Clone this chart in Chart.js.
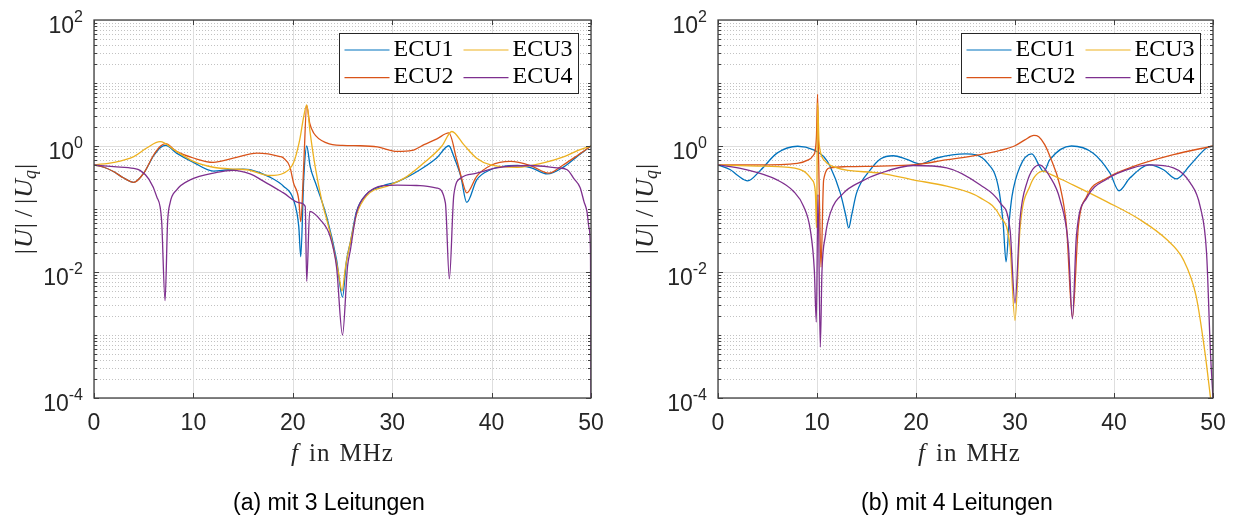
<!DOCTYPE html>
<html>
<head>
<meta charset="utf-8">
<script src="https://cdn.jsdelivr.net/npm/chart.js@4.4.1/dist/chart.umd.min.js"></script>
<style>
  html, body { margin: 0; padding: 0; background: #fff; }
  body { width: 1234px; height: 517px; position: relative; overflow: hidden; }
  canvas { position: absolute; top: 0; }
  #chartA { left: 0; }
  #chartB { left: 617px; }
</style>
</head>
<body>
<canvas id="chartA" width="617" height="517"></canvas>
<canvas id="chartB" width="617" height="517"></canvas>
<script>
// series labels / colours (MATLAB default order)
const labels = ['ECU1', 'ECU2', 'ECU3', 'ECU4'];
const colors = ['#0072BD', '#D95319', '#EDB120', '#7E2F8E'];

// axis ticks
const xTicks = [0, 10, 20, 30, 40, 50];
const yTickExps = [-4, -2, 0, 2];

// (a) mit 3 Leitungen  -- frequency in MHz, |U|/|Uq|
const freqA1 = [0, 1, 2, 3, 4, 5, 6, 6.7, 7.2, 8.3, 10, 12, 13.5, 15, 15.7, 17.7, 19.06, 20.07, 20.6, 20.8, 21.1, 21.4, 21.75, 22.4, 23.4, 24.4, 25.0, 25.4, 25.8, 26.4, 27.4, 29.1, 30.5, 32.8, 34.5, 35.7, 36.2, 36.9, 37.5, 38.5, 39.9, 41, 42.6, 44, 45.6, 47.3, 48.7, 50];
const ecuA1 = [0.5, 0.46, 0.39, 0.31, 0.265, 0.37, 0.7, 0.95, 1.02, 0.77, 0.55, 0.4, 0.42, 0.43, 0.42, 0.32, 0.23, 0.14, 0.053, 0.0175, 0.3, 1.0, 0.47, 0.23, 0.076, 0.0157, 0.004, 0.015, 0.03, 0.09, 0.17, 0.235, 0.27, 0.42, 0.65, 1.01, 0.68, 0.33, 0.127, 0.29, 0.42, 0.47, 0.49, 0.45, 0.36, 0.47, 0.7, 1.0];

const freqA2 = [0, 1, 2, 3, 4, 5, 6, 6.7, 7.2, 8.3, 10, 12, 14, 16.4, 18.7, 19.06, 19.7, 20.07, 20.6, 20.8, 21.1, 21.4, 21.7, 22.1, 23.4, 25, 26.8, 28.5, 30.5, 32, 33.2, 34.5, 35.7, 36.5, 37.0, 37.5, 38.5, 39.9, 41.9, 43.9, 45.75, 47.2, 48.7, 50];
const ecuA2 = [0.5, 0.46, 0.39, 0.31, 0.265, 0.37, 0.72, 1.0, 1.09, 0.82, 0.645, 0.55, 0.64, 0.77, 0.68, 0.645, 0.47, 0.26, 0.14, 0.063, 0.5, 4.4, 2.3, 1.61, 1.12, 1.02, 1.01, 0.97, 0.82, 0.85, 1.05, 1.3, 1.61, 0.6, 0.3, 0.18, 0.33, 0.49, 0.57, 0.49, 0.37, 0.5, 0.72, 1.0];

const freqA3 = [0, 2, 4, 5.3, 6.65, 8.3, 10, 12, 14, 15.4, 17.7, 19.06, 20.07, 20.7, 21.1, 21.4, 21.75, 22.25, 22.9, 23.75, 24.6, 24.95, 25.3, 25.8, 26.4, 27.4, 29.8, 31.5, 33.2, 35, 36.0, 37.2, 38.5, 39.9, 42.6, 45.2, 47.3, 48.7, 50];
const ecuA3 = [0.5, 0.55, 0.68, 0.93, 1.17, 0.82, 0.57, 0.46, 0.43, 0.42, 0.34, 0.37, 0.54, 1.26, 2.95, 4.5, 1.6, 0.47, 0.14, 0.042, 0.0097, 0.005, 0.012, 0.03, 0.08, 0.16, 0.24, 0.33, 0.54, 1.0, 1.7, 1.05, 0.64, 0.5, 0.46, 0.54, 0.68, 0.85, 1.0];

const freqA4 = [0, 2, 4, 4.63, 5.5, 6.3, 6.8, 7.15, 7.4, 7.65, 8.3, 9.67, 12.35, 14, 15.7, 17, 19.06, 20.7, 21.25, 21.4, 21.7, 22.75, 23.75, 24.4, 25.0, 25.5, 25.8, 26.4, 27.4, 29.1, 30.5, 32.8, 34.5, 35.35, 35.75, 36.2, 36.9, 38.5, 40.5, 43.9, 46.6, 47.6, 48.3, 48.9, 49.3, 49.6, 49.8, 49.95, 50];
const ecuA4 = [0.5, 0.47, 0.44, 0.41, 0.3, 0.159, 0.066, 0.0035, 0.06, 0.124, 0.2, 0.29, 0.38, 0.41, 0.36, 0.28, 0.18, 0.125, 0.11, 0.0071, 0.092, 0.068, 0.037, 0.012, 0.001, 0.012, 0.0226, 0.086, 0.17, 0.235, 0.24, 0.235, 0.215, 0.125, 0.0078, 0.168, 0.31, 0.37, 0.45, 0.49, 0.45, 0.42, 0.3, 0.22, 0.13, 0.09, 0.05, 0.02, 0.0001];

// (b) mit 4 Leitungen
const freqB1 = [0, 1.25, 2, 3.0, 4.28, 5.96, 8.05, 9.66, 10.67, 11.34, 12.35, 12.9, 13.2, 13.5, 14.0, 15.4, 16.4, 17.7, 19, 20.4, 22.1, 25.0, 27.2, 28.3, 28.8, 29.1, 29.4, 29.7, 30.5, 31.7, 32.5, 32.9, 33.5, 35.7, 37.9, 39.6, 40.5, 41.6, 43.6, 45.0, 46.3, 47.7, 49.35, 50];
const ecuB1 = [0.5, 0.42, 0.34, 0.28, 0.41, 0.77, 0.99, 0.87, 0.68, 0.47, 0.18, 0.08, 0.05, 0.08, 0.18, 0.42, 0.62, 0.7, 0.62, 0.52, 0.645, 0.75, 0.54, 0.23, 0.06, 0.0145, 0.06, 0.16, 0.47, 0.75, 0.47, 0.39, 0.6, 1.0, 0.77, 0.37, 0.195, 0.31, 0.5, 0.42, 0.3, 0.5, 0.93, 1.0];

const freqB2 = [0, 4, 8, 9.0, 9.6, 9.83, 9.95, 10.06, 10.15, 10.25, 10.4, 10.67, 11.34, 13, 16.4, 19.7, 23, 26.5, 28.5, 30.0, 31.0, 31.9, 32.4, 33.0, 33.5, 34.55, 35.2, 35.8, 36.4, 37.25, 39.3, 41.9, 46.0, 50];
const ecuB2 = [0.5, 0.5, 0.53, 0.59, 0.7, 0.87, 1.5, 6.6, 0.8, 0.12, 0.012, 0.29, 0.45, 0.47, 0.48, 0.5, 0.6, 0.73, 0.85, 1.01, 1.25, 1.47, 1.4, 1.05, 0.7, 0.23, 0.053, 0.0019, 0.053, 0.16, 0.31, 0.47, 0.73, 1.0];

const freqB3 = [0, 4, 6, 8.65, 9.5, 9.83, 9.95, 10.06, 10.2, 10.33, 10.84, 12, 16.4, 19.7, 23.1, 26.5, 28.5, 29.5, 30.0, 30.5, 31.5, 32.9, 33.5, 35.9, 39.3, 42.6, 45.3, 47.0, 48.3, 49.2, 49.75];
const ecuB3 = [0.5, 0.48, 0.47, 0.4, 0.29, 0.19, 0.05, 4.8, 1.2, 0.82, 0.57, 0.45, 0.37, 0.29, 0.23, 0.15, 0.076, 0.025, 0.0017, 0.047, 0.23, 0.4, 0.36, 0.24, 0.13, 0.068, 0.033, 0.0157, 0.0041, 0.00051, 0.0001];

const freqB4 = [0, 2.6, 5.96, 7.64, 8.65, 9.32, 9.73, 9.93, 10.1, 10.33, 10.5, 10.84, 11.34, 12.7, 14.4, 16.4, 19.7, 23.1, 26.5, 28.5, 29.5, 30.0, 30.5, 31.2, 32.5, 33.5, 34.55, 35.4, 35.8, 36.2, 37.25, 39.3, 41.9, 43.6, 46.0, 47.7, 48.7, 49.35, 49.75, 50];
const ecuB4 = [0.5, 0.43, 0.29, 0.19, 0.11, 0.047, 0.0107, 0.0016, 0.17, 0.00064, 0.01, 0.037, 0.086, 0.18, 0.27, 0.37, 0.49, 0.45, 0.24, 0.125, 0.047, 0.0032, 0.068, 0.26, 0.5, 0.33, 0.14, 0.025, 0.0018, 0.037, 0.15, 0.3, 0.45, 0.5, 0.45, 0.26, 0.11, 0.02, 0.0005, 0.0001];

const SANS = '"Liberation Sans", Arial, sans-serif';
const SERIF = '"Liberation Serif", "Times New Roman", serif';

function pairs(fs, vs) {
  return fs.map((f, i) => ({ x: f, y: vs[i] }));
}

function hline(ctx, x0, x1, y) {
  ctx.beginPath(); ctx.moveTo(x0, y); ctx.lineTo(x1, y); ctx.stroke();
}
function vline(ctx, x, y0, y1) {
  ctx.beginPath(); ctx.moveTo(x, y0); ctx.lineTo(x, y1); ctx.stroke();
}

// draws text pieces [text, font, dy, extraGap] one after another, centred on cx
function drawPieces(ctx, pieces, cx, baseY) {
  let total = 0;
  pieces.forEach(p => { ctx.font = p[1]; p.w = ctx.measureText(p[0]).width + (p[3] || 0); total += p.w; });
  let x = cx - total / 2;
  ctx.textAlign = 'left';
  ctx.textBaseline = 'alphabetic';
  pieces.forEach(p => { ctx.font = p[1]; ctx.fillText(p[0], x, baseY + p[2]); x += p.w; });
}

// MATLAB-like axes: dotted minor grid, box with inward ticks, labels, legend, caption
const matlabLook = {
  id: 'matlabLook',
  beforeDatasetsDraw(chart) {
    const { ctx, chartArea: a, scales: { x, y } } = chart;
    ctx.save();
    ctx.lineWidth = 1;
    ctx.strokeStyle = '#c2c2c2';
    ctx.setLineDash([1, 2]);
    for (let e = -4; e < 2; e++) {
      for (let k = 1; k < 10; k++) {
        if (k === 1 && yTickExps.includes(e)) continue;
        const py = Math.round(y.getPixelForValue(k * Math.pow(10, e))) + 0.5;
        hline(ctx, a.left, a.right, py);
      }
    }
    ctx.setLineDash([]);
    ctx.strokeStyle = '#dedede';
    yTickExps.forEach(e => {
      const py = Math.round(y.getPixelForValue(Math.pow(10, e))) + 0.5;
      hline(ctx, a.left, a.right, py);
    });
    xTicks.forEach(t => {
      const px = Math.round(x.getPixelForValue(t)) + 0.5;
      vline(ctx, px, a.top, a.bottom);
    });
    ctx.restore();
  },
  afterDraw(chart, args, o) {
    const { ctx, chartArea: a, scales: { x, y } } = chart;
    const L = Math.round(a.left), R = Math.round(a.right), T = Math.round(a.top), B = Math.round(a.bottom);
    ctx.save();
    // box
    ctx.strokeStyle = '#404040';
    ctx.lineWidth = 1.3;
    ctx.strokeRect(L, T, R - L, B - T);
    // ticks
    ctx.lineWidth = 1;
    xTicks.forEach(t => {
      const px = Math.round(x.getPixelForValue(t)) + 0.5;
      vline(ctx, px, B, B - 5);
      vline(ctx, px, T, T + 5);
    });
    for (let e = -4; e < 2; e++) {
      for (let k = 1; k < 10; k++) {
        const py = Math.round(y.getPixelForValue(k * Math.pow(10, e))) + 0.5;
        const len = (k === 1 && yTickExps.includes(e)) ? 5 : 3;
        hline(ctx, L, L + len, py);
        hline(ctx, R, R - len, py);
      }
    }
    // tick labels
    ctx.fillStyle = '#262626';
    ctx.textBaseline = 'alphabetic';
    ctx.textAlign = 'center';
    ctx.font = '23px ' + SANS;
    xTicks.forEach(t => ctx.fillText(String(t), x.getPixelForValue(t), B + 32));
    ctx.textAlign = 'right';
    yTickExps.forEach(e => {
      const py = y.getPixelForValue(Math.pow(10, e));
      const rx = L - 11;
      ctx.font = '16px ' + SANS;
      const ew = ctx.measureText(String(e)).width;
      ctx.fillText(String(e), rx, py + 1.7);
      ctx.font = '23px ' + SANS;
      ctx.fillText('10', rx - ew, py + 12.7);
    });
    // x title
    ctx.fillStyle = '#262626';
    ctx.letterSpacing = '1px';
    drawPieces(ctx, [
      ['f', 'italic 25px ' + SERIF, 0, 10],
      ['in', '25px ' + SERIF, 0, 9],
      ['MHz', '25px ' + SERIF, 0]
    ], (L + R) / 2 + o.titleShift, 461);
    ctx.letterSpacing = '0px';
    // y title (rotated)
    ctx.save();
    ctx.translate(L - o.yTitleGap, (T + B) / 2);
    ctx.rotate(-Math.PI / 2);
    drawPieces(ctx, [
      ['|', '26px ' + SERIF, 0, 1],
      ['U', 'italic 26px ' + SERIF, 0, 1],
      ['|', '26px ' + SERIF, 0, 6],
      ['/', '26px ' + SERIF, 0, 6],
      ['|', '26px ' + SERIF, 0, 1],
      ['U', 'italic 26px ' + SERIF, 0],
      ['q', 'italic 18px ' + SERIF, 4, 1],
      ['|', '26px ' + SERIF, 0]
    ], 0, 0);
    ctx.restore();
    // legend
    const w = 239, h = 60;
    const lx0 = R - 13 - w + 0.5, ly0 = T + 13 + 0.5;
    ctx.fillStyle = '#fff';
    ctx.fillRect(lx0, ly0, w, h);
    ctx.strokeStyle = '#262626';
    ctx.lineWidth = 1;
    ctx.strokeRect(lx0, ly0, w, h);
    chart.data.datasets.forEach((ds, i) => {
      const col = Math.floor(i / 2), row = i % 2;
      const sx = lx0 + 5 + col * 119;
      const sy = ly0 + 16.5 + row * 27.6;
      ctx.strokeStyle = ds.borderColor;
      ctx.lineWidth = 1.2;
      hline(ctx, sx, sx + 45, sy);
      ctx.fillStyle = '#000';
      ctx.font = '24px ' + SERIF;
      ctx.textAlign = 'left';
      ctx.fillText(ds.label, sx + 49, sy + 5.5);
    });
    // caption
    ctx.fillStyle = '#000';
    ctx.font = '23px ' + SANS;
    ctx.textAlign = 'center';
    ctx.fillText(o.caption, o.captionX, 510);
    ctx.restore();
  }
};

function makeChart(id, series, opts) {
  return new Chart(document.getElementById(id), {
    type: 'line',
    data: {
      datasets: series.map((s, i) => ({
        label: labels[i],
        data: pairs(s[0], s[1]),
        borderColor: colors[i],
        backgroundColor: colors[i],
        borderWidth: 1.3,
        pointRadius: 0,
        fill: false,
        cubicInterpolationMode: 'monotone',
        order: 4 - i
      }))
    },
    options: {
      responsive: false,
      animation: false,
      devicePixelRatio: 1,
      layout: { padding: { top: 20, right: opts.padRight, bottom: 0, left: 0 } },
      plugins: {
        legend: { display: false },
        tooltip: { enabled: false },
        matlabLook: opts
      },
      scales: {
        x: {
          type: 'linear', min: 0, max: 50,
          ticks: { display: false },
          grid: { display: false },
          border: { display: false },
          afterFit: s => { s.height = 119; }
        },
        y: {
          type: 'logarithmic', min: 1e-4, max: 100,
          ticks: { display: false },
          grid: { display: false },
          border: { display: false },
          afterFit: s => { s.width = opts.axisWidth; }
        }
      }
    },
    plugins: [matlabLook]
  });
}

makeChart('chartA', [[freqA1, ecuA1], [freqA2, ecuA2], [freqA3, ecuA3], [freqA4, ecuA4]], {
  axisWidth: 94, padRight: 26, caption: '(a) mit 3 Leitungen', captionX: 329, titleShift: 0, yTitleGap: 62
});
makeChart('chartB', [[freqB1, ecuB1], [freqB2, ecuB2], [freqB3, ecuB3], [freqB4, ecuB4]], {
  axisWidth: 101, padRight: 21, caption: '(b) mit 4 Leitungen', captionX: 340, titleShift: 4, yTitleGap: 65
});
</script>
</body>
</html>
